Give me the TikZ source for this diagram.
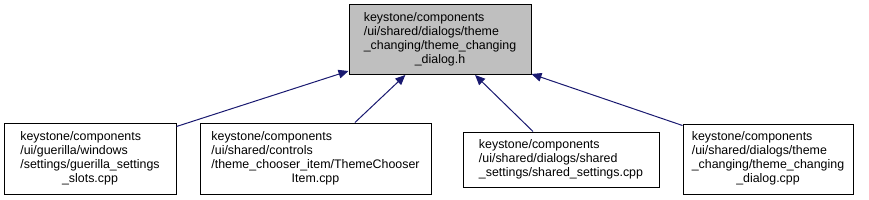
\documentclass[tikz,border=0pt]{standalone}
\usepackage{fontspec}
\setmainfont{Liberation Sans}
\usetikzlibrary{arrows.meta}
\definecolor{edgeblue}{HTML}{191970}
\definecolor{topgray}{HTML}{BFBFBF}
\newcommand{\fileblock}[2]{\begin{tabular}{@{}l@{}}#1\\\multicolumn{1}{@{}c@{}}{#2}\end{tabular}}
\begin{document}
\begin{tikzpicture}[x=0.75pt,y=-0.75pt,
  filebox/.style={draw=black,line width=0.75pt,inner sep=0pt,
    font=\fontsize{9.3}{10.5}\selectfont},
  edge/.style={draw=edgeblue,line width=0.75pt,
    -{Triangle[length=7.5pt,width=6.5pt]}}]
\useasboundingbox (0,0) rectangle (869,200);
\node[filebox,fill=topgray,minimum width=136.5pt,minimum height=52.5pt] (top) at (440,39.5)
  {\fileblock{keystone/components\\/ui/shared/dialogs/theme\\\_changing/theme\_changing}{\_dialog.h}};
\node[filebox,minimum width=129pt,minimum height=53.25pt] (b1) at (90,158.5)
  {\fileblock{keystone/components\\/ui/guerilla/windows\\/settings/guerilla\_settings}{\_slots.cpp}};
\node[filebox,minimum width=173.25pt,minimum height=53.25pt] (b2) at (315.5,158.5)
  {\fileblock{keystone/components\\/ui/shared/controls\\/theme\_chooser\_item/ThemeChooser}{Item.cpp}};
\node[filebox,minimum width=147pt,minimum height=41.25pt] (b3) at (561,159.5)
  {\fileblock{keystone/components\\/ui/shared/dialogs/shared}{\_settings/shared\_settings.cpp}};
\node[filebox,minimum width=127.5pt,minimum height=52.5pt] (b4) at (768,159)
  {\fileblock{keystone/components\\/ui/shared/dialogs/theme\\\_changing/theme\_changing}{\_dialog.cpp}};
\draw[edge] ([yshift=-3pt]b1.north east) -- ([yshift=3pt]top.south west);
\draw[edge] ([xshift=29.6pt]b2.north) -- ([xshift=-26pt]top.south);
\draw[edge] ([xshift=-21pt]b3.north) -- ([xshift=26.3pt]top.south);
\draw[edge] ([yshift=-1.5pt]b4.north west) -- ([yshift=0.75pt]top.south east);
\end{tikzpicture}
\end{document}
